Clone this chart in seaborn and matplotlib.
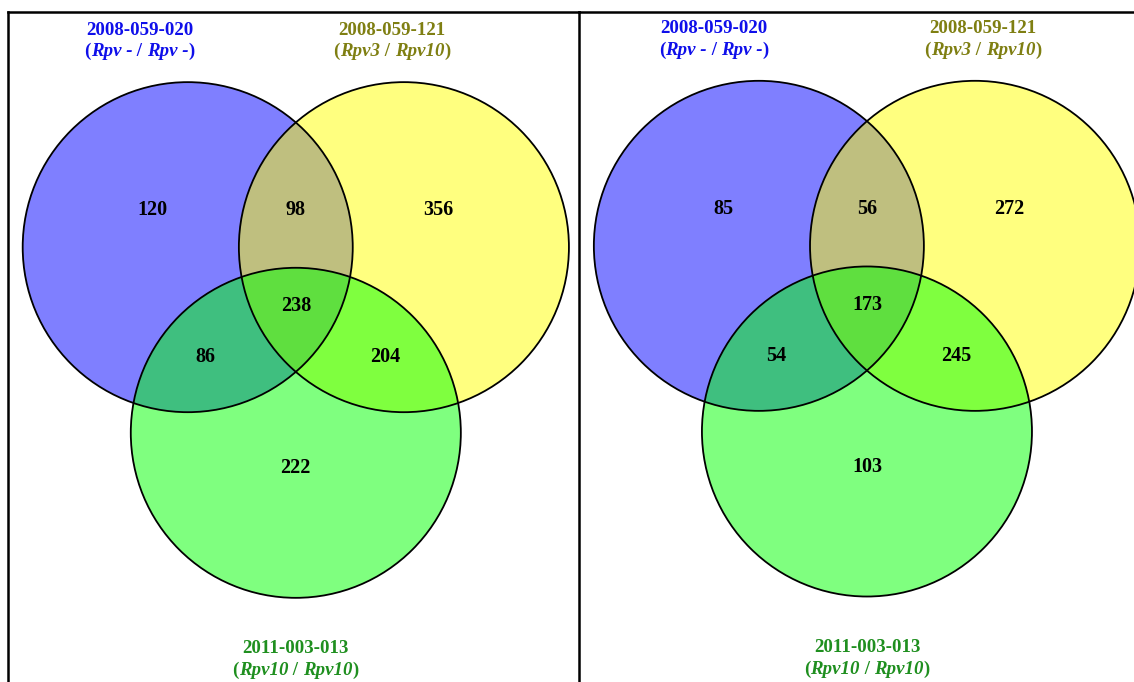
import matplotlib
matplotlib.use("Agg")
import matplotlib.pyplot as plt
from matplotlib.patches import Circle
from matplotlib.offsetbox import TextArea, HPacker, AnnotationBbox
import seaborn as sns

# set names and genotypes (top-left, top-right, bottom)
set_names = ["2008-059-020", "2008-059-121", "2011-003-013"]
set_genotypes = [("Rpv -", "Rpv -"), ("Rpv3", "Rpv10"), ("Rpv10", "Rpv10")]
title_colors = ["#0f0fea", "#7f7f12", "#1f8f1f"]

# region order: A only, A&B, B only, A&B&C, A&C, B&C, C only
region_keys = ["100", "110", "010", "111", "101", "011", "001"]
counts_left = [120, 98, 356, 238, 86, 204, 222]
counts_right = [85, 56, 272, 173, 54, 245, 103]

# layout (units of circle radius, origin at centroid of the three centres)
circle_centres = [(-0.655, 0.375), (0.655, 0.375), (0.0, -0.75)]
circle_rgba = [(0, 0, 1, 0.5), (1, 1, 0, 0.5), (0, 1, 0, 0.5)]
region_pos = {"100": (-0.87, 0.60), "110": (0.0, 0.60), "010": (0.865, 0.60),
              "111": (0.0, 0.017), "101": (-0.548, -0.29), "011": (0.543, -0.29),
              "001": (0.0, -0.964)}

sns.set_theme(style="white")
plt.rcParams["font.family"] = ["Liberation Serif", "DejaVu Serif"]

FS = 14.5
FS_TITLE = 13.6


def genotype_box(g1, g2, color):
    up = dict(color=color, fontsize=FS_TITLE, fontweight="bold", family="Liberation Serif")
    it = dict(up, fontstyle="italic")
    parts = [("(", up), (g1, it), (" / ", up), (g2, it), (")", up)]
    kids = [TextArea(t, textprops=p) for t, p in parts]
    return HPacker(children=kids, align="baseline", pad=0, sep=0)


def draw_panel(ax, counts, title_x):
    for (cx, cy), rgba in zip(circle_centres, circle_rgba):
        ax.add_patch(Circle((cx, cy), 1.0, facecolor=rgba, edgecolor="none"))
    for cx, cy in circle_centres:
        ax.add_patch(Circle((cx, cy), 1.0, facecolor="none", edgecolor="black", lw=1.3))
    for key, n in zip(region_keys, counts):
        x, y = region_pos[key]
        ax.text(x, y, str(n), ha="center", va="center", fontsize=FS,
                fontweight="bold", color="black")
    title_y = [(1.69, 1.56), (1.69, 1.56), (-2.058, -2.192)]
    for i in range(3):
        y1, y2 = title_y[i]
        ax.text(title_x[i], y1, set_names[i], ha="center", va="center",
                fontsize=FS_TITLE, fontweight="bold", color=title_colors[i])
        box = genotype_box(*set_genotypes[i], title_colors[i])
        ab = AnnotationBbox(box, (title_x[i], y2), xycoords="data", frameon=False,
                            box_alignment=(0.5, 0.5), pad=0)
        ax.add_artist(ab)
    ax.set_xticks([])
    ax.set_yticks([])


W, H = 1134, 682
fig = plt.figure(figsize=(W / 100, H / 100), dpi=100)

ax2 = fig.add_axes([579 / W, 0, (1145 - 579) / W, (H - 12) / H])
ax2.set_xlim(-1.745, 1.685)
ax2.set_ylim(-2.268, 1.792)
ax2.patch.set_visible(False)
draw_panel(ax2, counts_right, [-0.927, 0.703, 0.0])
for s in ["bottom", "left", "right"]:
    ax2.spines[s].set_visible(False)

ax1 = fig.add_axes([8 / W, 0, (579 - 8) / W, (H - 12) / H])
ax1.set_xlim(-1.744, 1.716)
ax1.set_ylim(-2.26, 1.80)
ax1.patch.set_visible(False)
draw_panel(ax1, counts_left, [-0.947, 0.583, 0.0])
ax1.spines["bottom"].set_visible(False)

for ax in (ax1, ax2):
    for s in ax.spines.values():
        s.set_color("black")
        s.set_linewidth(1.8)
        s.set_zorder(5)

fig.savefig("out.png", dpi=100, facecolor="white")
